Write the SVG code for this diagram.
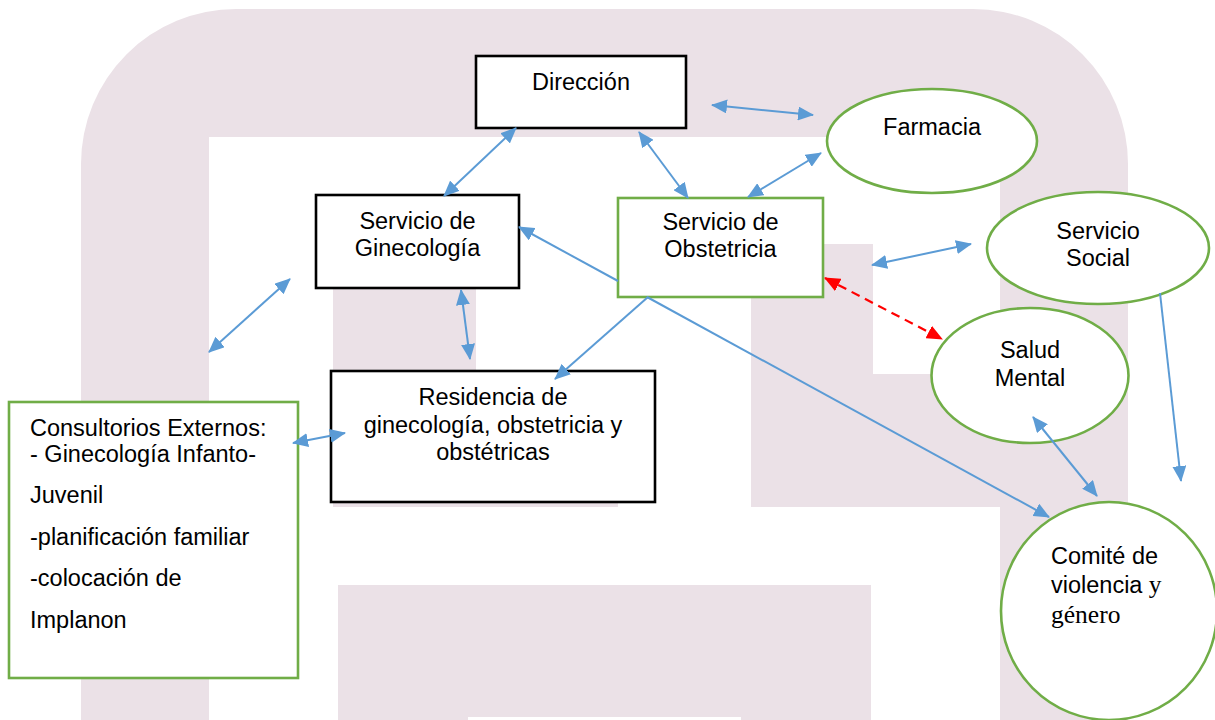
<svg xmlns="http://www.w3.org/2000/svg" width="1215" height="720" viewBox="0 0 1215 720">
  <style>
    .wm { fill: #ebe1e7; }
    .box { fill: #ffffff; stroke: #000000; stroke-width: 2.6; }
    .gbox { fill: #ffffff; stroke: #70ad47; stroke-width: 2.6; }
    .lbl { font-family: "Liberation Sans", Arial, sans-serif; font-size: 23.5px; fill: #000000; }
    .mid { text-anchor: middle; }
    .serif { font-family: "Liberation Serif", "Times New Roman", serif; font-size: 25.5px; }
    .link { fill: none; stroke: #5b9bd5; stroke-width: 2; }
    .dash { fill: none; stroke: #ff0000; stroke-width: 2.2; stroke-dasharray: 9 6; }
  </style>
  <defs>
    <marker id="headBlue" markerUnits="userSpaceOnUse" markerWidth="16" markerHeight="14" refX="15" refY="7" orient="auto-start-reverse">
      <path d="M0,0 L16,7 L0,14 Z" fill="#5b9bd5"/>
    </marker>
    <marker id="headRed" markerUnits="userSpaceOnUse" markerWidth="16" markerHeight="14" refX="15" refY="7" orient="auto-start-reverse">
      <path d="M0,0 L16,7 L0,14 Z" fill="#ff0000"/>
    </marker>
  </defs>

  <rect width="1215" height="720" fill="#ffffff"/>

  <!-- pale background emblem -->
  <g id="emblem">
    <path class="wm" d="M81,720 V164 A155,155 0 0 1 236,9 H973 A155,155 0 0 1 1128,164 V720 Z"/>
    <rect x="209" y="137" width="791" height="583" fill="#ffffff"/>
    <rect class="wm" x="333" y="250" width="143" height="257"/>
    <rect class="wm" x="333" y="400" width="285" height="107"/>
    <rect class="wm" x="751" y="244" width="122" height="130"/>
    <rect class="wm" x="751" y="374" width="249" height="133"/>
    <rect class="wm" x="338" y="585" width="533" height="135"/>
    <rect x="468" y="717" width="273" height="3" fill="#ffffff"/>
  </g>

  <g id="direccion">
    <rect class="box" x="476" y="56" width="210" height="72"/>
    <text class="lbl mid" x="581" y="90">Dirección</text>
  </g>

  <g id="ginecologia">
    <rect class="box" x="316" y="195" width="203" height="93"/>
    <text class="lbl mid" x="417.5" y="229">Servicio de</text>
    <text class="lbl mid" x="417.5" y="256">Ginecología</text>
  </g>

  <g id="obstetricia">
    <rect class="gbox" x="618" y="198" width="205" height="99"/>
    <text class="lbl mid" x="720.5" y="230">Servicio de</text>
    <text class="lbl mid" x="720.5" y="257">Obstetricia</text>
  </g>

  <g id="farmacia">
    <ellipse class="gbox" cx="932" cy="141" rx="105" ry="52"/>
    <text class="lbl mid" x="932" y="135">Farmacia</text>
  </g>

  <g id="servicio-social">
    <ellipse class="gbox" cx="1098" cy="248" rx="111" ry="56"/>
    <text class="lbl mid" x="1098" y="239">Servicio</text>
    <text class="lbl mid" x="1098" y="266">Social</text>
  </g>

  <g id="salud-mental">
    <ellipse class="gbox" cx="1030" cy="375.5" rx="98.5" ry="67.5"/>
    <text class="lbl mid" x="1030" y="358">Salud</text>
    <text class="lbl mid" x="1030" y="386">Mental</text>
  </g>

  <g id="residencia">
    <rect class="box" x="331" y="371" width="324" height="131"/>
    <text class="lbl mid" x="493" y="405">Residencia de</text>
    <text class="lbl mid" x="493" y="433">ginecología, obstetricia y</text>
    <text class="lbl mid" x="493" y="460">obstétricas</text>
  </g>

  <g id="consultorios">
    <rect class="gbox" x="9" y="402" width="289" height="276"/>
    <text class="lbl" x="30" y="436">Consultorios Externos:</text>
    <text class="lbl" x="30" y="462">- Ginecología Infanto-</text>
    <text class="lbl" x="30" y="503">Juvenil</text>
    <text class="lbl" x="30" y="545">-planificación familiar</text>
    <text class="lbl" x="30" y="586">-colocación de</text>
    <text class="lbl" x="30" y="628">Implanon</text>
  </g>

  <g id="comite">
    <ellipse class="gbox" cx="1109" cy="611" rx="108" ry="109"/>
    <text class="lbl" x="1051" y="564">Comité de</text>
    <text class="lbl" x="1051" y="593">violencia<tspan class="serif"> y</tspan></text>
    <text class="lbl serif" x="1051" y="623">género</text>
  </g>

  <g id="connectors">
    <line class="link" x1="516" y1="128" x2="444" y2="196" marker-start="url(#headBlue)" marker-end="url(#headBlue)"/>
    <line class="link" x1="639" y1="132" x2="688" y2="198" marker-start="url(#headBlue)" marker-end="url(#headBlue)"/>
    <line class="link" x1="712" y1="105" x2="813" y2="115" marker-start="url(#headBlue)" marker-end="url(#headBlue)"/>
    <line class="link" x1="748" y1="197" x2="821" y2="153" marker-start="url(#headBlue)" marker-end="url(#headBlue)"/>
    <line class="link" x1="872" y1="265" x2="971" y2="244" marker-start="url(#headBlue)" marker-end="url(#headBlue)"/>
    <line class="dash" x1="825" y1="278" x2="942" y2="339" marker-start="url(#headRed)" marker-end="url(#headRed)"/>
    <line class="link" x1="1160" y1="293" x2="1181" y2="481" marker-end="url(#headBlue)"/>
    <line class="link" x1="1033" y1="417" x2="1097" y2="496" marker-start="url(#headBlue)" marker-end="url(#headBlue)"/>
    <!-- Ginecología to Comité, passing behind the Obstetricia box -->
    <line class="link" x1="519" y1="227" x2="618" y2="281" marker-start="url(#headBlue)"/>
    <line class="link" x1="647" y1="297" x2="1049" y2="517" marker-end="url(#headBlue)"/>
    <line class="link" x1="648" y1="297" x2="555" y2="379" marker-end="url(#headBlue)"/>
    <line class="link" x1="461" y1="290" x2="470" y2="359" marker-start="url(#headBlue)" marker-end="url(#headBlue)"/>
    <line class="link" x1="209" y1="352" x2="290" y2="279" marker-start="url(#headBlue)" marker-end="url(#headBlue)"/>
    <line class="link" x1="293" y1="443" x2="345" y2="433" marker-start="url(#headBlue)" marker-end="url(#headBlue)"/>
  </g>
</svg>
